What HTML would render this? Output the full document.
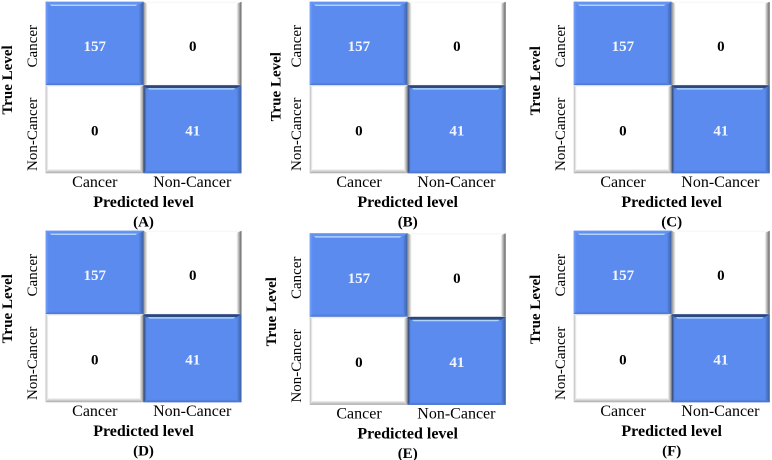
<!DOCTYPE html>
<html lang="en">
<head>
<meta charset="utf-8">
<title>Confusion matrices A–F</title>
<style>
  html, body { margin: 0; padding: 0; background: #fff; }
  body { width: 772px; height: 460px; overflow: hidden; }
  svg { display: block; filter: blur(0.35px); }
  text { font-family: "Liberation Serif", serif; fill: #000; text-anchor: middle; }
  .tick-x { font-size: 16px; }
  .tick-y { font-size: 15px; }
  .axis-title-x { font-size: 16px; font-weight: bold; }
  .axis-title-y { font-size: 15px; font-weight: bold; }
  .caption { font-size: 15px; font-weight: bold; }
  .value { font-size: 15px; font-weight: bold; }
  .value-light { fill: #f2f6ff; }
</style>
</head>
<body>
<svg id="chart" width="772" height="460" viewBox="0 0 772 460" xmlns="http://www.w3.org/2000/svg"></svg>
<script>
const panelLetters = ['A', 'B', 'C', 'D', 'E', 'F'];
const categories = ['Cancer', 'Non-Cancer'];
const xAxisTitle = 'Predicted level';
const yAxisTitle = 'True Level';
const valuesA = [[157, 0], [0, 41]];
const valuesB = [[157, 0], [0, 41]];
const valuesC = [[157, 0], [0, 41]];
const valuesD = [[157, 0], [0, 41]];
const valuesE = [[157, 0], [0, 41]];
const valuesF = [[157, 0], [0, 41]];
const panelValues = [valuesA, valuesB, valuesC, valuesD, valuesE, valuesF];

const svg = document.getElementById('chart');
const NS = 'http://www.w3.org/2000/svg';
const defs = document.createElementNS(NS, 'defs');
svg.appendChild(defs);

const gradientCache = {};
function gradient(outer, inner, side) {
  const key = (outer + inner + side).replace(/[^a-z0-9]/gi, '');
  if (!gradientCache[key]) {
    const g = document.createElementNS(NS, 'linearGradient');
    g.setAttribute('id', key);
    const dirs = { left: [0, 0, 1, 0], right: [1, 0, 0, 0], top: [0, 0, 0, 1], bottom: [0, 1, 0, 0] };
    const d = dirs[side];
    g.setAttribute('x1', d[0]); g.setAttribute('y1', d[1]);
    g.setAttribute('x2', d[2]); g.setAttribute('y2', d[3]);
    [[0, outer], [1, inner]].forEach(function (s) {
      const stop = document.createElementNS(NS, 'stop');
      stop.setAttribute('offset', s[0]);
      stop.setAttribute('stop-color', s[1]);
      g.appendChild(stop);
    });
    defs.appendChild(g);
    gradientCache[key] = 'url(#' + key + ')';
  }
  return gradientCache[key];
}

/* Panel frame for a given index: columns share x origins, rows and panel E have own y origins. */
function panelFrame(i) {
  const lefts = [45.5, 309.7, 573.7];
  const col = i % 3;
  const tops = [1.7, 1.7, 1.7, 230.7, 233.3, 230.7];
  const titleDx = [-33.5, -29, -33.7, -33.5, -33.7, -33.7];
  const titleDy = [78.3, 85, 79, 78, 78.4, 78.6];
  return { left: lefts[col], top: tops[i], cellW: 98, cellH: [83.6, 88], titleDx: titleDx[i], titleDy: titleDy[i] };
}
function xBand(frame, col) { return frame.left + col * frame.cellW; }
function yBand(frame, row) { return frame.top + (row === 0 ? 0 : frame.cellH[0]); }
function bandH(frame, row) { return frame.cellH[row]; }

const BLUE = '#5b8bef';
const edgeStyles = {
  blueUpper: { top: [3, '#6d9bf3', '#5b8bef'], left: [3, '#74a2f6', '#5b8bef'], right: [5, '#3c5f9f', '#5b8bef'], bottom: [3, '#4a74cc', '#5b8bef'] },
  blueLower: { top: [3, '#2b4272', '#2f4d86'], left: [3, '#33415e', '#5b8bef'], right: [5, '#3c5f9f', '#5b8bef'], bottom: [3, '#4871c6', '#5b8bef'] },
  whiteUpper: { top: [2, '#f4f4f4', '#ffffff'], left: [4, '#8f8f8f', '#ffffff'], right: [5, '#5f5f5f', '#ffffff'], bottom: [1, '#e8e8e8', '#ffffff'] },
  whiteLower: { top: [2, '#e2e2e2', '#ffffff'], left: [3, '#bdbdbd', '#ffffff'], right: [4, '#8a8a8a', '#ffffff'], bottom: [4, '#a8a8a8', '#f2f2f2'] }
};

function polygon(parent, pts, fill) {
  const p = document.createElementNS(NS, 'polygon');
  p.setAttribute('points', pts.map(function (q) { return q[0].toFixed(1) + ',' + q[1].toFixed(1); }).join(' '));
  p.setAttribute('fill', fill);
  parent.appendChild(p);
  return p;
}

function label(parent, cls, str, x, y, rotate) {
  const t = document.createElementNS(NS, 'text');
  t.setAttribute('class', cls);
  t.setAttribute('x', x);
  t.setAttribute('y', y);
  if (rotate) t.setAttribute('transform', 'rotate(-90 ' + x + ' ' + y + ')');
  t.textContent = str;
  parent.appendChild(t);
  return t;
}

function drawCell(parent, frame, row, col, value) {
  const x = xBand(frame, col), y = yBand(frame, row);
  const w = frame.cellW, h = bandH(frame, row);
  const filled = value > 0;
  const style = edgeStyles[filled ? (row === 0 ? 'blueUpper' : 'blueLower') : (row === 0 ? 'whiteUpper' : 'whiteLower')];

  const cell = document.createElementNS(NS, 'g');
  
  
  parent.appendChild(cell);

  const face = document.createElementNS(NS, 'rect');
  face.setAttribute('x', x);
  face.setAttribute('y', y);
  face.setAttribute('width', w);
  face.setAttribute('height', h);
  face.setAttribute('fill', filled ? BLUE : '#ffffff');
  cell.appendChild(face);

  const l = style.left[0], r = style.right[0], t = style.top[0], b = style.bottom[0];
  const X = x + w, Y = y + h;
  polygon(cell, [[x, y], [x + l, y + t], [x + l, Y - b], [x, Y]], gradient(style.left[1], style.left[2], 'left'));
  polygon(cell, [[X, y], [X - r, y + t], [X - r, Y - b], [X, Y]], gradient(style.right[1], style.right[2], 'right'));
  polygon(cell, [[x, Y], [x + l, Y - b], [X - r, Y - b], [X, Y]], gradient(style.bottom[1], style.bottom[2], 'bottom'));
  polygon(cell, [[x, y], [X, y], [X - r, y + t], [x + l, y + t]], gradient(style.top[1], style.top[2], 'top'));

  if (filled) {
    polygon(cell, [[x + 4, y + t - 0.2], [X - 6, y + t - 0.2], [X - 8, y + t + 1.3], [x + 6, y + t + 1.3]], '#aed4fb');
  }

  const v = label(cell, filled ? 'value value-light' : 'value', String(value), x + w / 2 + 0.2, y + (row === 0 ? 49.5 : 50));
  
  
}

panelLetters.forEach(function (letter, i) {
  const frame = panelFrame(i);
  const g = document.createElementNS(NS, 'g');
  
  
  svg.appendChild(g);

  const values = panelValues[i];
  const order = [[0, 0], [0, 1], [1, 0], [1, 1]];
  order.forEach(function (rc) {
    drawCell(g, frame, rc[0], rc[1], values[rc[0]][rc[1]]);
  });

  const bottom = yBand(frame, 1) + bandH(frame, 1);
  categories.forEach(function (cat, c) {
    const tx = label(g, 'tick-x', cat, xBand(frame, c) + frame.cellW / 2 + 0.3 * (c === 0 ? 1 : -1), bottom + 13.5);
    
    
    const ty = label(g, 'tick-y', cat, frame.left - 8.5, yBand(frame, c) + (c === 0 ? 44.5 : 49), true);
    
    
  });

  const xt = label(g, 'axis-title-x', xAxisTitle, frame.left + 98, bottom + 33.5);
  
  

  const yt = label(g, 'axis-title-y', yAxisTitle, frame.left + frame.titleDx, frame.top + frame.titleDy, true);
  
  

  const cap = label(g, 'caption', '(' + letter + ')', frame.left + 98, bottom + 53);
  
  
});
</script>
</body>
</html>
